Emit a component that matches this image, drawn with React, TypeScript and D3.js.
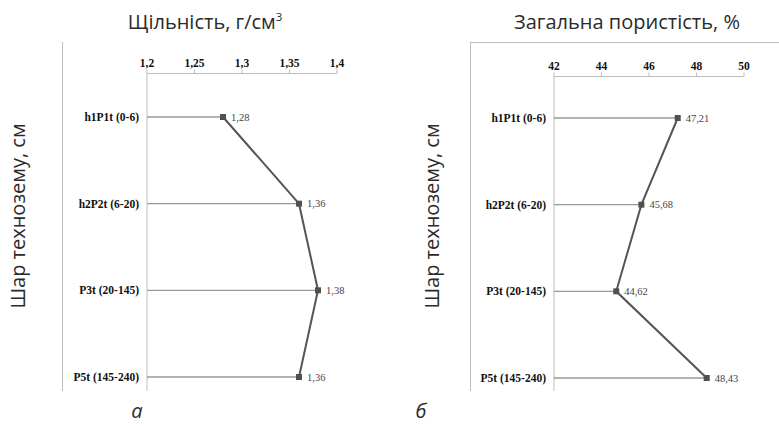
import React from "react";
import * as d3 from "d3";

const layers = ["h1P1t (0-6)", "h2P2t (6-20)", "P3t (20-145)", "P5t (145-240)"];
const density = [1.28, 1.36, 1.38, 1.36];
const densityTicks = [1.2, 1.25, 1.3, 1.35, 1.4];
const porosity = [47.21, 45.68, 44.62, 48.43];
const porosityTicks = [42, 44, 46, 48, 50];

const W = 779;
const H = 426;
const fmt = (v: number) => String(v).replace(".", ",");
const sans = "Open Sans, Noto Sans, sans-serif";
const serif = "Liberation Serif, DejaVu Serif, serif";

type PanelProps = {
  title: React.ReactNode;
  sub: string;
  values: number[];
  ticks: number[];
  frameX: number;
  topLine: boolean;
  axisX: number;
  axisY: number;
  y0: number;
  y1: number;
  titleX: number;
  yTitleX: number;
  subX: number;
};

function Panel(p: PanelProps) {
  const x = d3
    .scaleLinear()
    .domain([p.ticks[0], p.ticks[p.ticks.length - 1]])
    .range([p.axisX, p.axisX + 190]);
  const y = d3.scalePoint<string>().domain(layers).range([p.y0, p.y1]);
  const bottom = 391;

  const line = d3
    .line<number>()
    .x(d => x(d))
    .y((_, i) => y(layers[i]) as number);

  return (
    <g>
      {/* frame */}
      <line x1={p.frameX} x2={p.frameX} y1={42} y2={bottom} stroke="#bdbdbd" />
      {p.topLine && <line x1={p.frameX} x2={W} y1={42.5} y2={42.5} stroke="#bdbdbd" />}

      {/* titles */}
      <text x={p.titleX} y={29} textAnchor="middle" style={{ fontFamily: sans }} fontSize={20} fill="#2b2b2b">
        {p.title}
      </text>
      <text
        transform={`translate(${p.yTitleX},216) rotate(-90)`}
        textAnchor="middle"
        style={{ fontFamily: sans }}
        fontSize={20}
        fill="#2b2b2b"
      >
        Шар технозему, см
      </text>
      <text x={p.subX} y={418} textAnchor="middle" style={{ fontFamily: sans }} fontStyle="italic" fontSize={20} fill="#2b2b2b">
        {p.sub}
      </text>

      {/* top value axis */}
      <line x1={p.axisX} x2={p.axisX + 190} y1={p.axisY} y2={p.axisY} stroke="#bdbdbd" />
      {p.ticks.map(t => (
        <g key={t}>
          <line x1={x(t)} x2={x(t)} y1={p.axisY - 4} y2={p.axisY} stroke="#bdbdbd" />
          <text x={x(t)} y={p.axisY - 7} textAnchor="middle" style={{ fontFamily: serif }} fontWeight="bold" fontSize={11.5} fill="#111">
            {fmt(t)}
          </text>
        </g>
      ))}

      {/* category axis */}
      <line x1={p.axisX} x2={p.axisX} y1={p.axisY} y2={bottom} stroke="#bdbdbd" />
      {layers.map((c, i) => (
        <g key={c}>
          <line x1={p.axisX} x2={x(p.values[i])} y1={y(c)} y2={y(c)} stroke="#999" strokeWidth={1.3} />
          <text x={p.axisX - 8} y={(y(c) as number) + 4} textAnchor="end" style={{ fontFamily: serif }} fontWeight="bold" fontSize={11.5} fill="#111">
            {c}
          </text>
        </g>
      ))}

      {/* series */}
      <path d={line(p.values) ?? ""} fill="none" stroke="#555" strokeWidth={2} />
      {p.values.map((v, i) => (
        <g key={i}>
          <rect x={x(v) - 3} y={(y(layers[i]) as number) - 3} width={6} height={6} fill="#505050" />
          <text x={x(v) + 8} y={(y(layers[i]) as number) + 3.5} style={{ fontFamily: serif }} fontSize={10.5} fill="#444">
            {fmt(v)}
          </text>
        </g>
      ))}
    </g>
  );
}

export default function App() {
  return (
    <svg width={W} height={H} style={{ position: "absolute", left: 0, top: 0, background: "#fff" }}>
      <Panel
        title={
          <>
            Щільність, г/см<tspan fontSize={11.5} dy={-8}>3</tspan>
          </>
        }
        sub="а"
        values={density}
        ticks={densityTicks}
        frameX={62.5}
        topLine={false}
        axisX={147}
        axisY={73.5}
        y0={117}
        y1={377}
        titleX={205}
        yTitleX={25}
        subX={137}
      />
      <Panel
        title="Загальна пористість, %"
        sub="б"
        values={porosity}
        ticks={porosityTicks}
        frameX={470.5}
        topLine={true}
        axisX={554}
        axisY={76.5}
        y0={118}
        y1={378}
        titleX={627}
        yTitleX={439}
        subX={421}
      />
    </svg>
  );
}
